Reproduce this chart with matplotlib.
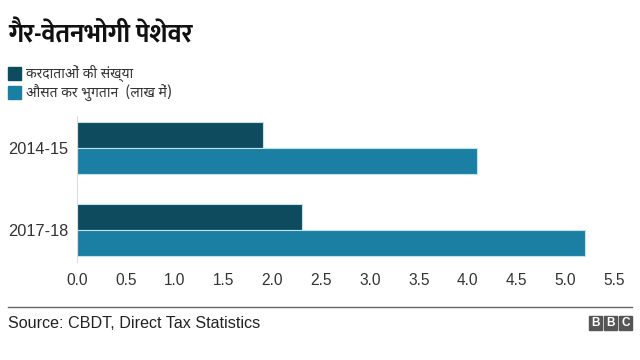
import matplotlib
matplotlib.use("Agg")
import matplotlib.pyplot as plt
from matplotlib import font_manager

# data
years = ["2014-15", "2017-18"]
taxpayers = [1.9, 2.3]          # करदाताओं की संख्या
avg_payment = [4.1, 5.2]        # औसत कर भुगतान (लाख में)
series_names = ["करदाताओं की संख्या", "औसत कर भुगतान  (लाख में)"]
title = "गैर-वेतनभोगी पेशेवर"
source = "Source: CBDT, Direct Tax Statistics"
xticks = [0.0, 0.5, 1.0, 1.5, 2.0, 2.5, 3.0, 3.5, 4.0, 4.5, 5.0, 5.5]

dark = "#0e4b5e"
light = "#1a7fa2"

# pick devanagari fonts that are present (one with a bold face for the title)
cands = ["Noto Sans Devanagari", "Mukta", "Hind", "Amiko", "FreeSans"]
fonts = font_manager.fontManager.ttflist
names = {f.name for f in fonts}
bold_names = {f.name for f in fonts
              if isinstance(f.weight, int) and f.weight >= 600 or f.weight == "bold"}
deva = next((c for c in cands if c in names), "DejaVu Sans")
deva_bold = next((c for c in cands if c in bold_names), deva)
deva_family = [deva, "DejaVu Sans"]
latin = ["Liberation Sans", "DejaVu Sans"]

fig = plt.figure(figsize=(6.4, 3.6), dpi=100)
ax = fig.add_axes([77 / 640, 1 - 262 / 360, (614 - 77) / 640, (262 - 116) / 360])

h = 0.32
pos = list(range(len(years)))
ax.barh([p - h / 2 for p in pos], taxpayers, height=h, color=dark,
        edgecolor="#bfe3ee", linewidth=0.8)
ax.barh([p + h / 2 for p in pos], avg_payment, height=h, color=light,
        edgecolor="#bfe3ee", linewidth=0.8)

ax.set_xlim(0, 5.5)
ax.set_ylim(1.4, -0.4)
ax.set_yticks(pos)
ax.set_yticklabels(years, family=latin, fontsize=11.8, color="#333333")
ax.set_xticks(xticks)
ax.set_xticklabels([f"{t:.1f}" for t in xticks], family=latin,
                   fontsize=11.2, color="#333333")
ax.tick_params(axis="y", length=0, pad=6)
ax.tick_params(axis="x", length=0, pad=8)
for s in ["top", "right", "bottom"]:
    ax.spines[s].set_visible(False)
ax.spines["left"].set_color("#dddddd")

# title and legend
fig.text(8 / 640, 1 - 35 / 360, title, family=[deva_bold, "DejaVu Sans"], fontsize=18.5,
         fontweight="bold", va="center", ha="left", color="#111111")
for i, (name, c) in enumerate(zip(series_names, [dark, light])):
    y = 73 + i * 19
    fig.patches.append(plt.Rectangle((8 / 640, 1 - (y + 6.5) / 360), 13 / 640, 13 / 360,
                                     transform=fig.transFigure, color=c))
    fig.text(26 / 640, 1 - y / 360, name, family=deva_family, fontsize=10,
             va="center", ha="left", color="#333333")

# footer
fig.add_artist(plt.Line2D([8 / 640, 632 / 640], [1 - 307 / 360] * 2,
                          transform=fig.transFigure, color="#666666", lw=1))
fig.text(8 / 640, 1 - 323 / 360, source, family=latin, fontsize=11.6,
         va="center", ha="left", color="#222222")
for i, ch in enumerate("BBC"):
    x0 = 589 + i * 15
    fig.patches.append(plt.Rectangle((x0 / 640, 1 - 330 / 360), 13 / 640, 14 / 360,
                                     transform=fig.transFigure, color="#555555"))
    fig.text((x0 + 6.5) / 640, 1 - 323 / 360, ch, family=latin, fontsize=8.5,
             fontweight="bold", color="white", ha="center", va="center")

fig.savefig("out.png", dpi=100)
